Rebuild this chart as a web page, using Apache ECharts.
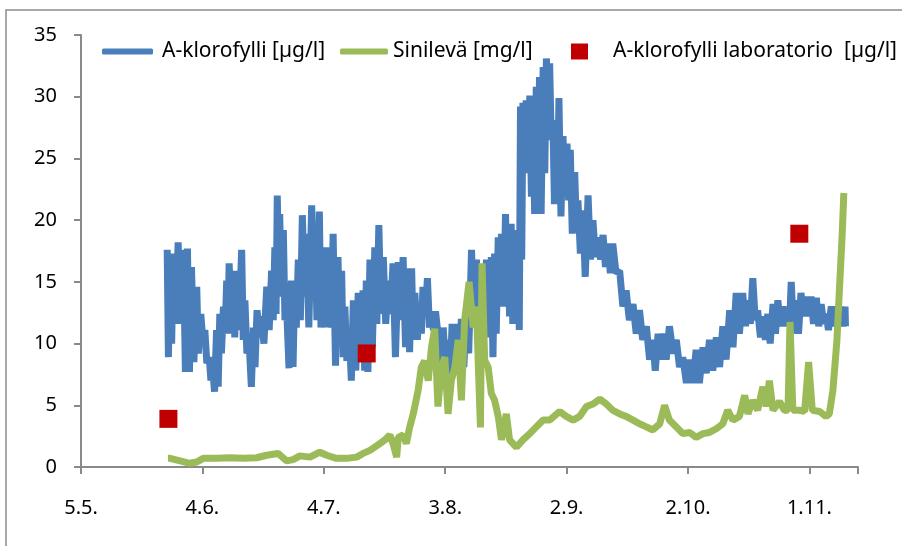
<!DOCTYPE html>
<html>
<head>
<meta charset="utf-8">
<script src="https://cdn.jsdelivr.net/npm/echarts@6/dist/echarts.min.js"></script>
<style>
html,body{margin:0;padding:0;background:#fff;}
#chart{width:902px;height:546px;}
</style>
</head>
<body>
<div id="chart"></div>
<script>
// x values are days counted from 5.5.
const xTickLabels = ['5.5.', '4.6.', '4.7.', '3.8.', '2.9.', '2.10.', '1.11.'];
const yTicks = [0, 5, 10, 15, 20, 25, 30, 35];

const seriesNames = ['A-klorofylli [µg/l]', 'Sinilevä [mg/l]', 'A-klorofylli laboratorio  [µg/l]'];

// A-klorofylli [µg/l] (continuous sensor, [day, value])
const chlorophyll = [
[21.3,17.6],[21.6,8.9],[22.0,17.0],[22.4,10.0],[22.8,17.3],[23.4,11.6],[24.0,18.2],[24.6,11.6],
[25.3,17.6],[25.8,7.7],[26.3,17.7],[26.8,7.7],[27.3,16.2],[27.9,8.5],[28.6,14.6],[29.0,9.2],
[29.6,12.4],[30.1,10.3],[30.6,11.1],[31.1,8.4],[31.7,8.9],[32.1,7.0],[32.5,8.1],[33.0,6.1],
[33.5,11.1],[33.9,6.5],[34.3,12.4],[34.7,9.2],[35.2,13.0],[35.6,10.8],[36.0,15.1],[36.3,10.8],
[36.6,16.5],[37.1,13.0],[37.6,15.7],[38.0,10.5],[38.4,15.9],[39.0,11.1],[39.7,17.6],[40.1,10.3],
[40.5,13.5],[41.0,9.2],[41.6,9.7],[42.1,6.5],[42.6,11.3],[43.0,8.1],[43.5,12.7],[44.1,10.5],
[44.6,12.2],[45.2,10.0],[45.9,14.6],[46.5,11.1],[47.1,15.9],[47.5,11.9],[47.9,17.8],[48.2,12.4],
[48.5,22.0],[48.8,16.5],[49.1,20.5],[49.5,13.8],[50.0,19.2],[50.4,11.9],[50.8,13.0],[51.4,8.0],
[52.0,15.1],[52.4,8.1],[52.8,14.6],[53.2,11.3],[53.7,16.8],[54.2,11.9],[54.7,20.4],[55.2,13.8],
[55.7,18.9],[56.3,11.3],[57.0,21.2],[57.4,15.1],[57.8,19.5],[58.3,11.9],[58.9,20.7],[59.3,11.3],
[59.8,16.8],[60.2,11.3],[60.7,17.8],[61.1,11.9],[61.5,15.1],[61.9,11.3],[62.3,18.9],[62.9,8.2],
[63.5,17.0],[64.0,10.3],[64.4,15.9],[64.8,8.9],[65.2,13.0],[65.7,8.6],[66.3,10.8],[66.8,7.0],
[67.3,13.5],[67.9,7.8],[68.5,14.1],[69.1,9.7],[69.7,14.3],[70.1,7.8],[70.5,15.1],[70.9,7.7],
[71.4,16.8],[72.0,9.7],[72.6,17.8],[73.1,11.6],[73.6,19.6],[74.1,12.4],[74.7,17.0],[75.3,11.6],
[75.9,15.1],[76.5,12.4],[77.1,16.5],[77.7,8.9],[78.4,16.6],[79.0,11.9],[79.6,17.0],[80.2,9.7],
[80.8,16.1],[81.2,9.3],[81.7,16.1],[82.1,10.3],[82.5,14.1],[83.1,10.3],[83.7,13.2],[84.1,10.8],
[84.5,14.6],[85.1,12.4],[85.6,15.3],[86.1,11.3],[86.6,12.4],[87.1,11.1],[87.6,12.6],[88.1,11.1],
[88.7,11.2],[89.1,7.6],[89.5,11.3],[90.1,8.1],[90.7,10.3],[91.2,7.0],[91.7,11.6],[92.2,8.1],
[92.8,11.6],[93.4,8.9],[94.0,12.0],[94.6,8.1],[95.2,12.7],[95.8,9.2],[96.5,17.6],[97.1,11.9],
[97.7,16.8],[98.3,13.0],[98.9,15.1],[99.5,10.8],[100.2,16.8],[100.8,10.5],[101.4,17.0],[101.8,8.9],
[102.2,17.3],[102.6,10.8],[103.1,18.6],[103.5,13.0],[103.9,18.9],[104.4,13.0],[104.9,20.5],[105.2,15.7],
[105.5,19.5],[105.9,12.2],[106.3,19.7],[106.7,11.6],[107.2,17.8],[107.6,11.9],[108.0,19.2],[108.3,11.1],
[108.6,29.2],[108.9,16.8],[109.2,29.5],[109.6,23.8],[110.0,29.7],[110.5,24.1],[110.9,30.1],[111.3,21.9],
[111.7,27.0],[112.1,20.5],[112.5,30.8],[112.9,21.9],[113.3,31.6],[113.7,20.5],[114.2,32.4],[114.6,23.8],
[115.0,33.1],[115.4,28.4],[115.8,32.7],[116.2,26.5],[116.6,28.1],[117.0,21.3],[117.5,26.8],[117.8,22.4],
[118.1,29.9],[118.6,20.3],[119.1,26.8],[119.6,22.4],[120.1,26.2],[120.5,21.6],[120.9,25.7],[121.4,18.9],
[122.0,23.9],[122.4,19.5],[122.8,21.6],[123.4,17.3],[124.0,20.8],[124.6,15.4],[125.3,22.0],[125.9,16.8],
[126.5,20.0],[127.1,17.0],[127.7,18.6],[128.4,16.8],[129.0,18.8],[129.6,16.2],[130.2,18.1],[130.8,15.7],
[131.4,18.1],[132.2,15.7],[133.1,15.9],[133.9,13.0],[134.7,14.3],[135.5,11.9],[136.4,13.2],[137.2,10.8],
[138.0,12.7],[138.8,10.3],[139.7,11.4],[140.5,8.7],[141.3,10.3],[141.9,7.8],[142.6,10.8],[143.2,8.7],
[143.8,10.8],[144.6,8.7],[145.4,11.4],[146.3,9.2],[147.1,10.3],[147.9,8.1],[148.7,8.9],[149.6,6.8],
[150.4,8.7],[151.2,6.8],[152.0,9.5],[152.8,6.8],[153.7,9.7],[154.5,7.6],[155.3,10.3],[156.1,7.8],
[157.0,10.5],[157.8,8.1],[158.6,11.4],[159.4,8.7],[160.3,12.7],[161.1,9.7],[161.9,14.1],[162.7,10.8],
[163.5,14.1],[164.2,11.4],[164.8,13.5],[165.4,11.6],[166.0,15.3],[166.6,11.9],[167.2,12.7],[167.9,10.5],
[168.5,12.2],[169.1,10.3],[169.7,12.4],[170.3,10.0],[171.0,13.2],[171.6,10.8],[172.2,13.5],[172.8,11.4],
[173.4,13.0],[174.0,11.4],[174.7,13.0],[175.1,11.6],[175.5,15.0],[176.1,10.8],[176.7,13.5],[177.3,10.8],
[177.9,14.1],[178.6,12.2],[179.2,13.8],[179.8,12.2],[180.4,13.8],[181.0,11.6],[181.7,13.7],[182.3,11.4],
[182.9,13.2],[183.5,11.6],[184.1,12.4],[184.7,11.1],[185.4,13.0],[186.0,11.4],[186.6,13.0],[187.2,11.6],
[187.8,13.0],[188.3,11.4],[188.8,13.0],[188.9,11.4]
];

// Sinilevä [mg/l] ([day, value])
const cyanobacteria = [
[21.5,0.7],[22.0,0.7],[24.5,0.5],[26.9,0.3],[28.6,0.4],[30.2,0.7],[33.5,0.7],[36.8,0.75],
[40.1,0.7],[43.4,0.75],[45.9,0.95],[48.7,1.1],[50.8,0.5],[52.4,0.6],[54.1,0.9],[56.6,0.8],
[59.0,1.2],[60.7,0.95],[63.1,0.7],[65.6,0.7],[68.1,0.8],[69.7,1.1],[71.4,1.35],[73.4,1.8],
[75.1,2.2],[76.3,2.6],[77.1,1.9],[78.0,0.8],[78.4,2.4],[79.6,2.6],[80.4,1.9],[81.2,3.2],
[82.1,4.3],[83.3,6.2],[84.1,8.1],[84.9,8.6],[85.8,7.0],[86.6,9.7],[87.4,11.2],[88.2,4.9],
[89.1,8.1],[89.9,8.9],[90.7,4.3],[91.5,7.0],[92.4,8.1],[93.2,10.3],[94.0,5.4],[94.8,11.9],
[95.9,15.0],[96.9,11.3],[97.7,13.0],[98.7,3.2],[99.1,16.5],[99.75,8.65],[100.6,8.1],[101.4,5.95],
[102.2,5.4],[103.1,4.1],[103.9,2.2],[105.1,4.3],[105.9,2.2],[107.6,1.6],[109.2,2.2],[110.9,2.7],
[112.5,3.25],[114.2,3.8],[115.8,3.8],[118.3,4.5],[119.9,4.1],[121.6,3.8],[123.2,4.1],[124.9,4.9],
[126.5,5.1],[128.2,5.5],[129.8,5.1],[131.4,4.6],[133.1,4.3],[134.7,4.1],[136.4,3.8],[138.0,3.5],
[139.7,3.25],[141.3,3.0],[143.0,3.5],[144.2,5.0],[145.4,3.8],[147.1,3.25],[148.7,2.7],[150.4,2.8],
[152.0,2.4],[153.7,2.7],[155.3,2.8],[157.0,3.1],[158.6,3.5],[159.8,4.6],[161.1,3.8],[162.7,4.1],
[164.0,5.8],[164.8,4.3],[166.0,5.4],[167.2,4.6],[168.5,6.5],[169.3,4.9],[170.1,7.0],[171.0,4.6],
[172.6,5.3],[173.8,4.6],[174.7,4.6],[175.2,11.75],[175.9,4.6],[177.5,4.6],[178.8,4.5],[179.8,8.5],
[180.7,4.6],[182.5,4.5],[184.1,4.1],[184.9,4.3],[185.8,6.2],[186.8,10.3],[187.4,14.3],[188.1,18.9],
[188.5,22.2]
];

// A-klorofylli laboratorio [µg/l] ([day, value])
const labChlorophyll = [[21.6, 3.9], [70.6, 9.2], [177.5, 18.9]];

const axisGray = '#898989';
const font = '"Noto Sans", "DejaVu Sans", sans-serif';

const chart = echarts.init(document.getElementById('chart'));
chart.setOption({
  animation: false,
  backgroundColor: '#ffffff',
  textStyle: {fontFamily: font, color: '#000'},
  graphic: [{
    type: 'rect', silent: true,
    shape: {x: 6, y: 10, width: 1000, height: 1000},
    style: {fill: 'none', stroke: '#8c8c8c', lineWidth: 1.5}
  }],
  grid: {left: 81, right: 44, top: 35, bottom: 79},
  legend: [
    {data: [seriesNames[0]], left: 97, top: 36, icon: 'roundRect', itemWidth: 51, itemHeight: 6,
     textStyle: {fontFamily: font, fontSize: 21, color: '#000', padding: [0, 0, 0, 4]}},
    {data: [seriesNames[1]], left: 335, top: 36, icon: 'roundRect', itemWidth: 48, itemHeight: 6,
     textStyle: {fontFamily: font, fontSize: 21, color: '#000'}},
    {data: [seriesNames[2]], left: 566, top: 36, icon: 'rect', itemWidth: 17, itemHeight: 16,
     itemStyle: {opacity: 1},
     textStyle: {fontFamily: font, fontSize: 21, color: '#000', padding: [0, 0, 0, 20]}}
  ],
  xAxis: {
    type: 'value', min: 0, max: 192, interval: 30,
    splitLine: {show: false},
    axisLine: {show: true, onZero: false, lineStyle: {color: axisGray, width: 2}},
    axisTick: {show: true, length: 7, lineStyle: {color: axisGray, width: 2}},
    axisLabel: {
      margin: 31, fontSize: 20, fontFamily: font, color: '#000',
      formatter: function (v) {
        if (v % 30 !== 0) return '';
        return xTickLabels[v / 30] || '';
      }
    }
  },
  yAxis: {
    type: 'value', min: yTicks[0], max: yTicks[yTicks.length - 1], interval: 5,
    splitLine: {show: false},
    axisLine: {show: true, lineStyle: {color: axisGray, width: 2}},
    axisTick: {show: true, length: 7, lineStyle: {color: axisGray, width: 2}},
    axisLabel: {margin: 24, fontSize: 20, fontFamily: font, color: '#000'}
  },
  series: [
    {
      name: seriesNames[0], type: 'line', data: chlorophyll, showSymbol: false,
      itemStyle: {color: '#4a7ebb'},
      lineStyle: {color: '#4a7ebb', width: 7}, z: 2
    },
    {
      name: seriesNames[1], type: 'line', data: cyanobacteria, showSymbol: false,
      itemStyle: {color: '#9bbb59'},
      lineStyle: {color: '#9bbb59', width: 7}, z: 3
    },
    {
      name: seriesNames[2], type: 'scatter', data: labChlorophyll, symbol: 'rect', symbolSize: 18,
      itemStyle: {color: '#c00000', opacity: 1}, z: 4
    }
  ]
});
</script>
</body>
</html>
